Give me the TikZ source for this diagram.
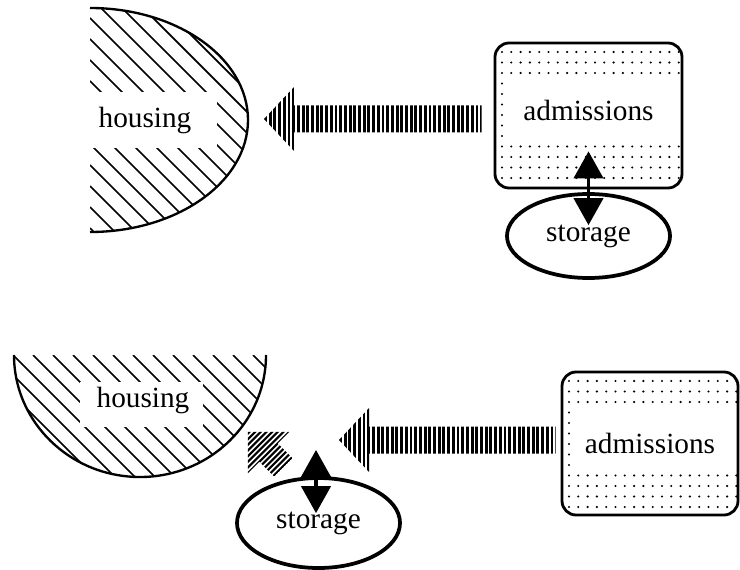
\documentclass[tikz,border=0pt]{standalone}
\usepackage{fontspec}
\setmainfont{Liberation Serif}
\usetikzlibrary{arrows.meta,calc,shapes.geometric}

\tikzset{
  lbl/.style={font=\fontsize{25}{30}\selectfont},
  hatch/.style={line width=1.5pt},
  bar/.style={line width=2.5pt},
  thinbar/.style={line width=1.8pt},
  wall/.style={line width=2pt},
  dotbox/.style={draw, line width=2.4pt, rounded corners=12pt, lbl,
    path picture={
      \foreach \i in {0,...,20} \foreach \j in {0,...,14}
        \fill[draw=none] ($(path picture bounding box.north west)+(7+9.3*\i,9+10.5*\j)$) circle (1pt);
      \fill[white,draw=none,sharp corners] ($(path picture bounding box.west)+(13,-34)$) rectangle ($(path picture bounding box.east)+(0,28)$);
    }},
  store/.style={draw, ellipse, line width=3.2pt, lbl, inner sep=0pt,
    minimum width=4.89cm, minimum height=2.52cm},
  dbl/.style={line width=2.7pt,
    arrows={Triangle[length=23pt,width=25pt]-Triangle[length=23pt,width=25pt]}}
}

% barred arrow, #1 = tip, #2 = tail
\newcommand{\bararrow}[2]{%
  \begin{scope}
    \clip (#1) -- ++(30,-32) -- ++(0,18.5) -- ($(#2)+(0,-13.5)$)
      -- ($(#2)+(0,13.5)$) -- ($(#1)+(30,13.5)$) -- ++(0,18.5) -- cycle;
    \foreach \i in {0,...,50} \draw[bar] ($(#1)+(1.5+4.7*\i,-40)$) -- ++(0,80);
  \end{scope}}

\begin{document}
\begin{tikzpicture}[x=0.03cm,y=-0.03cm]
  \useasboundingbox (0,0) rectangle (740,570);

  % top: housing (left), admissions and storage (right)
  \begin{scope}
    \clip (90,8) arc[start angle=-90,end angle=90,x radius=158,y radius=112] -- cycle;
    \foreach \k in {-16,...,12} \draw[hatch] (90,18+21*\k) -- ++(300,300);
    \fill[white] (88,92) rectangle (217,148);
  \end{scope}
  \draw[wall] (90,8) arc[start angle=-90,end angle=90,x radius=158,y radius=112];
  \node[lbl] (hous1) at (145,121) {housing};

  \node[dotbox, minimum width=5.61cm, minimum height=4.35cm, text depth=9pt] (adm1) at (588.5,115.5) {admissions};
  \node[store] (sto1) at (588.5,236) {storage};

  \coordinate (tip1) at (264,119);
  \coordinate (tail1) at ($(adm1.west)+(-12,3.5)$);
  \bararrow{tip1}{tail1}

  \draw[dbl] ($(adm1.south)+(0,-38)$) -- ($(sto1.north)+(0,33)$);

  % bottom: storage moved next to housing
  \begin{scope}
    \clip (14,355) arc[start angle=180,end angle=0,x radius=126,y radius=122] -- cycle;
    \foreach \k in {-12,...,12} \draw[hatch] (33+20*\k,355) -- ++(300,300);
    \fill[white] (80,382) rectangle (203,427);
  \end{scope}
  \draw[wall] (14,355) arc[start angle=180,end angle=0,x radius=126,y radius=122];
  \node[lbl] (hous2) at (143,400) {housing};

  \node[dotbox, minimum width=5.28cm, minimum height=4.29cm] (adm2) at (650,443.5) {admissions};
  \node[store, minimum height=2.7cm] (sto2) at (318.5,523) {storage};

  \coordinate (tip2) at (339,440);
  \coordinate (tail2) at ($(adm2.west)+(-5,-3.5)$);
  \bararrow{tip2}{tail2}

  \begin{scope}[shift={(268.5,452.5)}, rotate=-45]
    \clip (-29,0) -- (0,-29) -- (0,-13) -- (21,-13) -- (21,13) -- (0,13) -- (0,29) -- cycle;
    \foreach \i in {0,...,13} \draw[thinbar] (-28+4*\i,-35) -- ++(0,70);
  \end{scope}

  \coordinate (top2) at (316,450);
  \draw[dbl] (top2) -- ($(sto2.north)+(-2.5,37)$);
\end{tikzpicture}
\end{document}
